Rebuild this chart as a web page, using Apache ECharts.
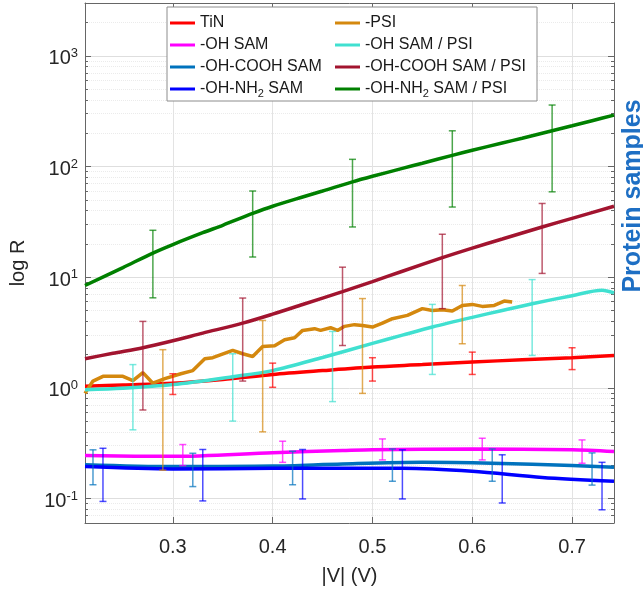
<!DOCTYPE html>
<html>
<head>
<meta charset="utf-8">
<script src="https://cdn.jsdelivr.net/npm/echarts/dist/echarts.min.js"></script>
<style>
html, body { margin: 0; padding: 0; background: #fff; }
#chart { width: 643px; height: 597px; }
</style>
</head>
<body>
<div id="chart"></div>
<script>
// measured curves, [|V|, R]
var tinLine = [[0.212,1.03],[0.25,1.06],[0.30,1.10],[0.35,1.19],[0.40,1.32],[0.45,1.43],[0.50,1.54],[0.55,1.62],[0.60,1.71],[0.65,1.79],[0.70,1.87],[0.742,1.96]];
var ohLine = [[0.212,0.244],[0.30,0.240],[0.40,0.259],[0.47,0.271],[0.50,0.276],[0.60,0.280],[0.70,0.275],[0.742,0.265]];
var coohLine = [[0.212,0.202],[0.30,0.194],[0.40,0.196],[0.47,0.205],[0.55,0.212],[0.62,0.208],[0.70,0.198],[0.742,0.191]];
var nh2Line = [[0.212,0.194],[0.30,0.185],[0.40,0.187],[0.53,0.187],[0.60,0.176],[0.67,0.155],[0.742,0.143]];
var psiLine = [[0.212,0.89],[0.220,1.15],[0.230,1.27],[0.250,1.27],[0.260,1.16],[0.270,1.37],[0.280,1.10],[0.292,1.21],[0.308,1.34],[0.320,1.43],[0.332,1.83],[0.340,1.87],[0.360,2.18],[0.370,2.03],[0.380,1.92],[0.390,2.36],[0.402,2.40],[0.412,2.72],[0.422,2.83],[0.430,3.30],[0.442,3.42],[0.448,3.30],[0.458,3.49],[0.465,3.30],[0.472,3.59],[0.482,3.72],[0.490,3.66],[0.500,3.54],[0.510,3.84],[0.520,4.21],[0.535,4.51],[0.550,5.19],[0.560,5.00],[0.570,5.08],[0.580,4.94],[0.590,5.55],[0.600,5.67],[0.610,5.44],[0.622,5.55],[0.632,6.08],[0.640,5.95]];
var ohPsiLine = [[0.212,0.96],[0.25,0.99],[0.30,1.07],[0.36,1.26],[0.40,1.43],[0.45,1.88],[0.50,2.52],[0.53,2.99],[0.56,3.54],[0.60,4.33],[0.63,5.0],[0.66,5.75],[0.70,6.8],[0.73,7.6],[0.742,7.2]];
var coohPsiLine = [[0.212,1.83],[0.24,2.05],[0.27,2.30],[0.30,2.66],[0.33,3.12],[0.37,3.84],[0.40,4.63],[0.43,5.66],[0.47,7.4],[0.50,9.1],[0.53,11.3],[0.57,15.0],[0.60,18.3],[0.63,22.1],[0.67,28.4],[0.70,34.0],[0.742,43.7]];
var nh2PsiLine = [[0.212,8.4],[0.25,12.2],[0.28,16.5],[0.30,19.7],[0.33,25.2],[0.35,29.4],[0.38,37.6],[0.40,43.7],[0.43,53],[0.45,60],[0.48,72.6],[0.50,81.5],[0.53,96],[0.55,107],[0.58,126],[0.60,140],[0.63,163],[0.65,180],[0.68,210],[0.70,233],[0.72,259],[0.742,291]];

// error bars, [|V|, low, high]
var tinErr = [[0.30,0.87,1.34],[0.40,1.01,1.67],[0.50,1.15,1.87],[0.60,1.32,2.10],[0.70,1.46,2.30]];
var ohErr = [[0.31,0.198,0.307],[0.41,0.212,0.329],[0.51,0.223,0.345],[0.61,0.223,0.350],[0.71,0.208,0.338]];
var coohErr = [[0.22,0.133,0.275],[0.32,0.128,0.256],[0.42,0.133,0.267],[0.52,0.143,0.280],[0.62,0.143,0.280],[0.72,0.132,0.258]];
var nh2Err = [[0.23,0.094,0.284],[0.33,0.095,0.277],[0.43,0.099,0.277],[0.53,0.099,0.275],[0.63,0.091,0.248],[0.73,0.079,0.212]];
var psiErr = [[0.29,0.18,2.21],[0.39,0.40,4.06],[0.49,0.89,6.4],[0.59,2.5,8.4]];
var ohPsiErr = [[0.26,0.417,1.62],[0.36,0.50,2.03],[0.46,0.75,3.23],[0.56,1.32,5.67],[0.66,1.96,9.5]];
var coohPsiErr = [[0.27,0.63,3.98],[0.37,1.15,6.47],[0.47,2.41,12.3],[0.57,5.19,24.4],[0.67,10.8,46.3]];
var nh2PsiErr = [[0.28,6.5,26.5],[0.38,15.2,60],[0.48,28.4,116],[0.58,43,210],[0.68,59,359]];

var names = ['TiN', '-OH SAM', '-OH-COOH SAM', '-OH-NH2 SAM', '-PSI', '-OH SAM / PSI', '-OH-COOH SAM / PSI', '-OH-NH2 SAM / PSI'];
var colors = ['#ff0000', '#ff00ff', '#0072bd', '#0000ff', '#d4880e', '#40e0d0', '#a2142f', '#008000'];
var lines = [tinLine, ohLine, coohLine, nh2Line, psiLine, ohPsiLine, coohPsiLine, nh2PsiLine];
var errs = [tinErr, ohErr, coohErr, nh2Err, psiErr, ohPsiErr, coohPsiErr, nh2PsiErr];

var myChart = echarts.init(document.getElementById('chart'));

function errSeries(bars, color) {
	return {
		type: 'custom',
		data: bars,
		encode: { x: 0, y: [1, 2] },
		silent: true,
		z: 3,
		renderItem: function (params, api) {
			var lo = api.coord([api.value(0), api.value(1)]);
			var hi = api.coord([api.value(0), api.value(2)]);
			var w = 3.5;
			var st = { stroke: color, lineWidth: 1.5, opacity: 0.7 };
			return {
				type: 'group',
				children: [
					{ type: 'line', shape: { x1: lo[0], y1: lo[1], x2: hi[0], y2: hi[1] }, style: st },
					{ type: 'line', shape: { x1: lo[0] - w, y1: lo[1], x2: lo[0] + w, y2: lo[1] }, style: st },
					{ type: 'line', shape: { x1: hi[0] - w, y1: hi[1], x2: hi[0] + w, y2: hi[1] }, style: st }
				]
			};
		}
	};
}

var series = [];
for (var i = 0; i < names.length; i++) {
	series.push({
		name: names[i],
		type: 'line',
		data: lines[i],
		color: colors[i],
		symbol: 'none',
		smooth: i == 4 ? false : 0.3,
		lineStyle: { width: 3.5, color: colors[i] },
		z: 2
	});
	series.push(errSeries(errs[i], colors[i]));
}

var legendText = {
	fontFamily: 'Liberation Sans, Arial, sans-serif',
	fontSize: 16,
	color: '#1a1a1a',
	lineHeight: 20,
	rich: {
		sub: { fontSize: 11, lineHeight: 6, verticalAlign: 'bottom' }
	}
};
function legendFmt(name) {
	return name.replace('NH2', 'NH{sub|2}');
}
function legendCol(data, left) {
	return {
		data: data,
		orient: 'vertical',
		left: left,
		top: 13,
		padding: 0,
		itemGap: 2,
		itemWidth: 25,
		itemHeight: 3,
		icon: 'rect',
		selectedMode: false,
		textStyle: legendText,
		formatter: legendFmt,
		z: 10
	};
}

var axisCol = '#666';
var font = 'Liberation Sans, Arial, sans-serif';

var option = {
	animation: false,
	grid: { left: 84, right: 29, top: 3, bottom: 74, containLabel: false },
	legend: [legendCol(names.slice(0, 4), 170), legendCol(names.slice(4), 335)],
	xAxis: [{
		type: 'value',
		min: 0.212,
		max: 0.742,
		name: '|V| (V)',
		nameLocation: 'middle',
		nameGap: 43,
		nameTextStyle: { fontFamily: font, fontSize: 20, color: '#262626' },
		axisLine: { show: true, lineStyle: { color: axisCol } },
		axisTick: { show: true, inside: true, length: 6, lineStyle: { color: axisCol } },
		axisLabel: {
			margin: 14,
			fontFamily: font,
			fontSize: 20,
			color: '#262626',
			formatter: function (v) {
				if (Math.abs(v * 10 - Math.round(v * 10)) > 1e-6) return '';
				return v.toFixed(1);
			}
		},
		splitLine: { show: true, lineStyle: { color: '#e3e3e3' } }
	}, {
		type: 'value',
		position: 'top',
		min: 0.212,
		max: 0.742,
		axisLine: { show: true, lineStyle: { color: axisCol } },
		axisTick: { show: true, inside: true, length: 6, lineStyle: { color: axisCol } },
		axisLabel: { show: false },
		splitLine: { show: false }
	}],
	yAxis: [{
		type: 'log',
		min: 0.06,
		max: 3000,
		name: 'log R',
		nameLocation: 'middle',
		nameGap: 57,
		nameTextStyle: { fontFamily: font, fontSize: 20, color: '#262626' },
		axisLine: { show: true, lineStyle: { color: axisCol } },
		axisTick: { show: true, inside: true, length: 6, lineStyle: { color: axisCol } },
		minorTick: { show: true, splitNumber: 9, length: 3, lineStyle: { color: axisCol } },
		minorSplitLine: { show: true, lineStyle: { color: '#ebebeb', type: 'dotted' } },
		splitLine: { show: true, lineStyle: { color: '#dedede' } },
		axisLabel: {
			margin: 7,
			padding: [6, 0, 0, 0],
			fontFamily: font,
			fontSize: 20,
			color: '#262626',
			formatter: function (v) {
				var e = Math.log10(v);
				if (Math.abs(e - Math.round(e)) > 1e-6) return '';
				return '{b|10}{sup|' + Math.round(e) + '}';
			},
			rich: {
				b: { fontFamily: font, fontSize: 20, lineHeight: 24, color: '#262626' },
				sup: { fontFamily: font, fontSize: 13, lineHeight: 8, verticalAlign: 'top', color: '#262626' }
			}
		}
	}, {
		type: 'log',
		position: 'right',
		min: 0.06,
		max: 3000,
		axisLine: { show: true, lineStyle: { color: axisCol } },
		axisTick: { show: true, inside: true, length: 6, lineStyle: { color: axisCol } },
		minorTick: { show: true, splitNumber: 9, length: 3, lineStyle: { color: axisCol } },
		axisLabel: { show: false },
		splitLine: { show: false }
	}],
	graphic: [{
		type: 'rect',
		shape: { x: 167, y: 7, width: 370, height: 94 },
		style: { fill: '#fff', stroke: '#8c8c8c', lineWidth: 1 },
		z: 5
	}, {
		type: 'text',
		x: 633,
		y: 196,
		rotation: Math.PI / 2,
		style: {
			text: 'Protein samples',
			fontFamily: font,
			fontSize: 25,
			fontWeight: 'bold',
			fill: '#1e6fc4',
			textAlign: 'center',
			textVerticalAlign: 'middle'
		},
		z: 5
	}],
	series: series
};
myChart.setOption(option);
</script>
</body>
</html>
